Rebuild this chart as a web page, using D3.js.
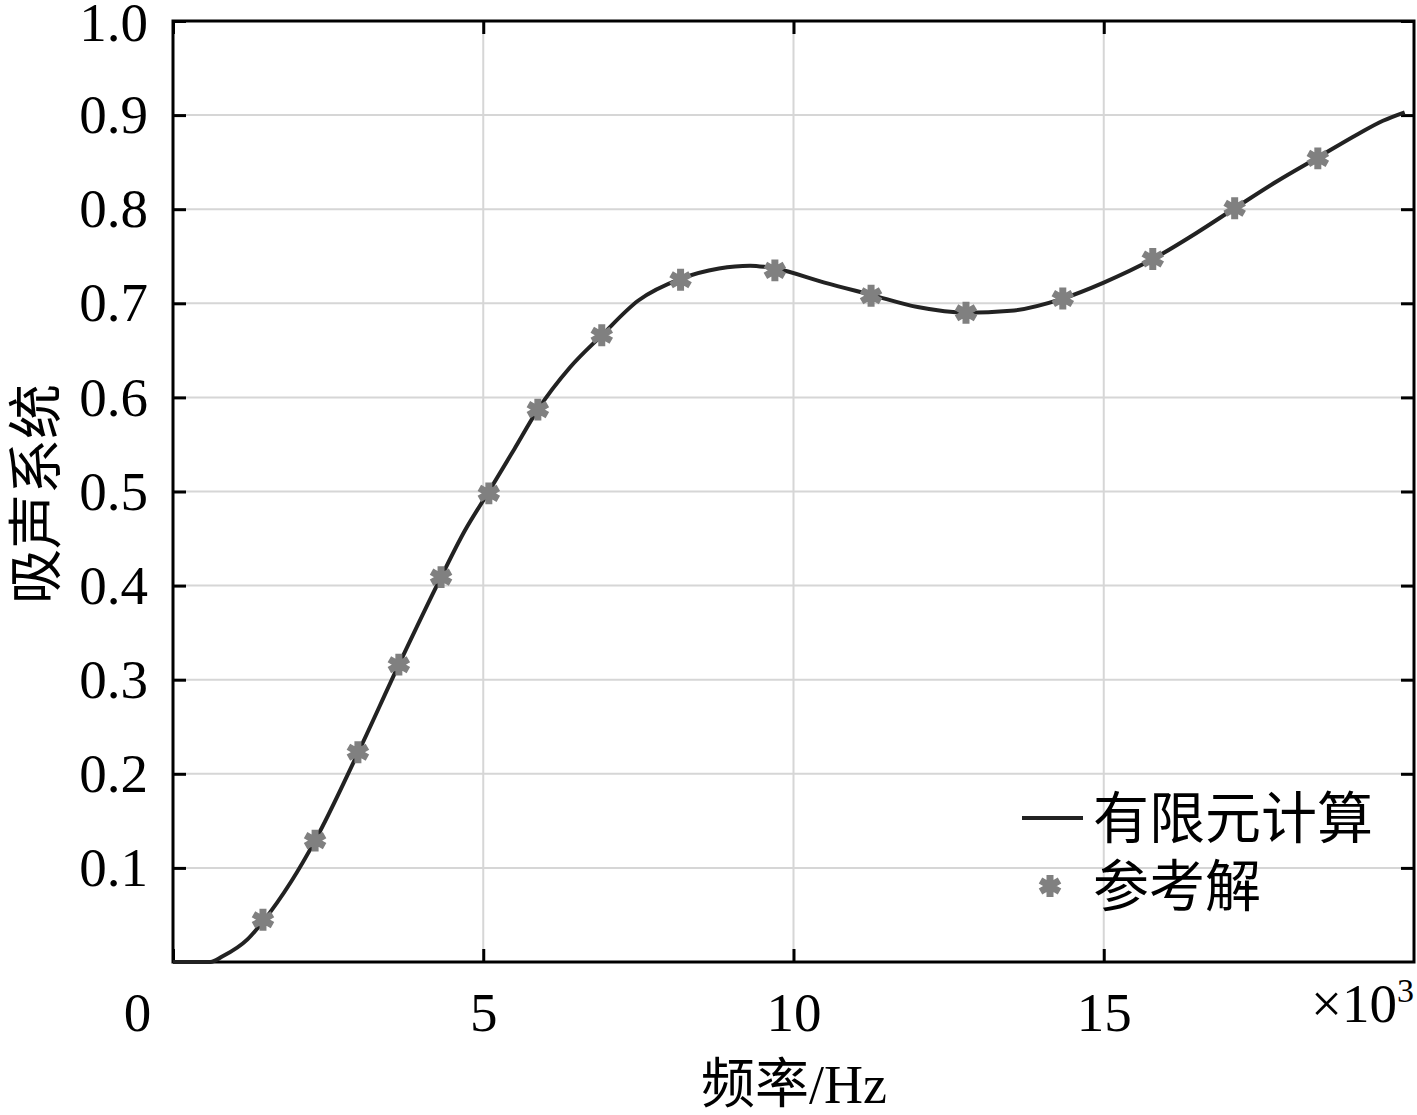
<!DOCTYPE html>
<html lang="zh">
<head>
<meta charset="utf-8">
<title>吸声系统</title>
<script src="https://cdn.jsdelivr.net/npm/d3@7"></script>
<style>
    body { margin: 0; background: #fff; }
    svg text { font-family: "Liberation Serif", "Times New Roman", "Noto Sans CJK SC", serif; fill: #000; }
    .cjk { font-family: "Liberation Serif", "Noto Sans CJK SC", serif; }
</style>
</head>
<body>
<div id="chart"></div>
<script>
// finite element curve (frequency x10^3 Hz, absorption)
var curveFreq = [0, 0.6, 0.8, 1.2, 1.45, 1.9, 2.29, 2.98, 3.64, 4.32, 4.7, 5.09, 5.5, 5.88, 6.4, 6.91, 7.5, 8.18, 8.8, 9.3, 9.7, 10.5, 11.25, 12.0, 12.78, 13.5, 14.34, 15.0, 15.79, 16.5, 17.11, 17.8, 18.45, 19.1, 19.5, 19.85];
var curveVal  = [0, 0, 0.006, 0.024, 0.043, 0.085, 0.129, 0.222, 0.316, 0.409, 0.458, 0.500, 0.545, 0.587, 0.632, 0.666, 0.703, 0.726, 0.737, 0.740, 0.737, 0.722, 0.709, 0.696, 0.690, 0.692, 0.705, 0.722, 0.747, 0.775, 0.801, 0.830, 0.855, 0.880, 0.894, 0.903];

// reference solution markers
var refFreq = [1.45, 2.29, 2.98, 3.64, 4.32, 5.09, 5.88, 6.91, 8.18, 9.70, 11.25, 12.78, 14.34, 15.79, 17.11, 18.45];
var refVal  = [0.045, 0.129, 0.223, 0.316, 0.409, 0.498, 0.587, 0.666, 0.725, 0.735, 0.708, 0.690, 0.705, 0.747, 0.801, 0.854];

var xTicks = [0, 5, 10, 15];
var yTicks = [0.1, 0.2, 0.3, 0.4, 0.5, 0.6, 0.7, 0.8, 0.9, 1.0];
var legendNames = ["有限元计算", "参考解"];

var w = 1417, h = 1115;
var pL = 173, pR = 1414, pT = 21, pB = 962;
var fontSize = 55;

var svg = d3.select("#chart").append("svg")
    .attr("width", w)
    .attr("height", h);

var xScale = d3.scaleLinear().domain([0, 20]).range([pL, pR]);
var yScale = d3.scaleLinear().domain([0, 1]).range([pB, pT]);

// grid
svg.append("g")
    .selectAll("line")
    .data(xTicks.filter(function (d) { return d > 0; }))
    .enter().append("line")
    .attr("x1", function (d) { return xScale(d); })
    .attr("x2", function (d) { return xScale(d); })
    .attr("y1", pT).attr("y2", pB)
    .attr("stroke", "#d6d6d6").attr("stroke-width", 2);

svg.append("g")
    .selectAll("line")
    .data(yTicks.filter(function (d) { return d < 1; }))
    .enter().append("line")
    .attr("x1", pL).attr("x2", pR)
    .attr("y1", function (d) { return yScale(d); })
    .attr("y2", function (d) { return yScale(d); })
    .attr("stroke", "#d6d6d6").attr("stroke-width", 2);

// axes, ticks pointing inward
var xAxis = d3.axisBottom(xScale).tickValues(xTicks).tickSize(-13).tickPadding(30)
    .tickFormat(d3.format("d"));
var yAxis = d3.axisLeft(yScale).tickValues(yTicks).tickSize(-13).tickPadding(25)
    .tickFormat(d3.format(".1f"));

var gx = svg.append("g")
    .attr("transform", "translate(0," + pB + ")")
    .call(xAxis);
var gy = svg.append("g")
    .attr("transform", "translate(" + pL + ",0)")
    .call(yAxis);

svg.append("g")
    .attr("transform", "translate(0," + pT + ")")
    .call(d3.axisTop(xScale).tickValues(xTicks).tickSize(-13).tickFormat(""));
svg.append("g")
    .attr("transform", "translate(" + pR + ",0)")
    .call(d3.axisRight(yScale).tickValues(yTicks).tickSize(-13).tickFormat(""));

svg.selectAll(".domain").remove();
svg.selectAll(".tick line").attr("stroke", "#000").attr("stroke-width", 3);
svg.selectAll(".tick text")
    .style("font-size", fontSize + "px")
    .style("font-family", "'Liberation Serif', serif");
// the "0" label sits left of the axis origin in the original
gx.selectAll(".tick text").filter(function (d) { return d === 0; }).attr("dx", -36);
// keep the top label inside the picture
gy.selectAll(".tick text").filter(function (d) { return d === 1; }).attr("dy", "0.36em");

// box
svg.append("rect")
    .attr("x", pL).attr("y", pT)
    .attr("width", pR - pL).attr("height", pB - pT)
    .attr("fill", "none").attr("stroke", "#000").attr("stroke-width", 3);

// curve
var curveData = curveFreq.map(function (f, i) { return [f, curveVal[i]]; });
var line = d3.line()
    .x(function (d) { return xScale(d[0]); })
    .y(function (d) { return yScale(d[1]); })
    .curve(d3.curveMonotoneX);

svg.append("path")
    .datum(curveData)
    .attr("d", line)
    .attr("fill", "none")
    .attr("stroke", "#222")
    .attr("stroke-width", 4);

// markers
var star = d3.symbol().type(d3.symbolAsterisk).size(340);
svg.append("g")
    .selectAll("path")
    .data(refFreq.map(function (f, i) { return [f, refVal[i]]; }))
    .enter().append("path")
    .attr("transform", function (d) { return "translate(" + xScale(d[0]) + "," + yScale(d[1]) + ")"; })
    .attr("d", star)
    .attr("fill", "none")
    .attr("stroke", "#808080")
    .attr("stroke-width", 7);

// legend
var lg = svg.append("g");
lg.append("line")
    .attr("x1", 1022).attr("x2", 1083)
    .attr("y1", 818).attr("y2", 818)
    .attr("stroke", "#222").attr("stroke-width", 4);
lg.append("path")
    .attr("transform", "translate(1050,886)")
    .attr("d", star)
    .attr("fill", "none")
    .attr("stroke", "#808080")
    .attr("stroke-width", 7);
lg.selectAll("text")
    .data(legendNames)
    .enter().append("text")
    .attr("class", "cjk")
    .attr("x", 1093)
    .attr("y", function (d, i) { return 838 + i * 68; })
    .style("font-size", "56px")
    .text(function (d) { return d; });

// x10^3 multiplier
var mult = svg.append("text")
    .attr("x", 1311).attr("y", 1022)
    .style("font-size", fontSize + "px");
mult.append("tspan").text("×10");
mult.append("tspan").attr("dy", -20).style("font-size", "34px").text("3");

// axis titles
svg.append("text")
    .attr("class", "cjk")
    .attr("x", 794).attr("y", 1103)
    .attr("text-anchor", "middle")
    .style("font-size", "54px")
    .text("频率/Hz");

svg.append("text")
    .attr("class", "cjk")
    .attr("transform", "translate(55,494) rotate(-90)")
    .attr("text-anchor", "middle")
    .style("font-size", "55px")
    .text("吸声系统");
</script>
</body>
</html>
